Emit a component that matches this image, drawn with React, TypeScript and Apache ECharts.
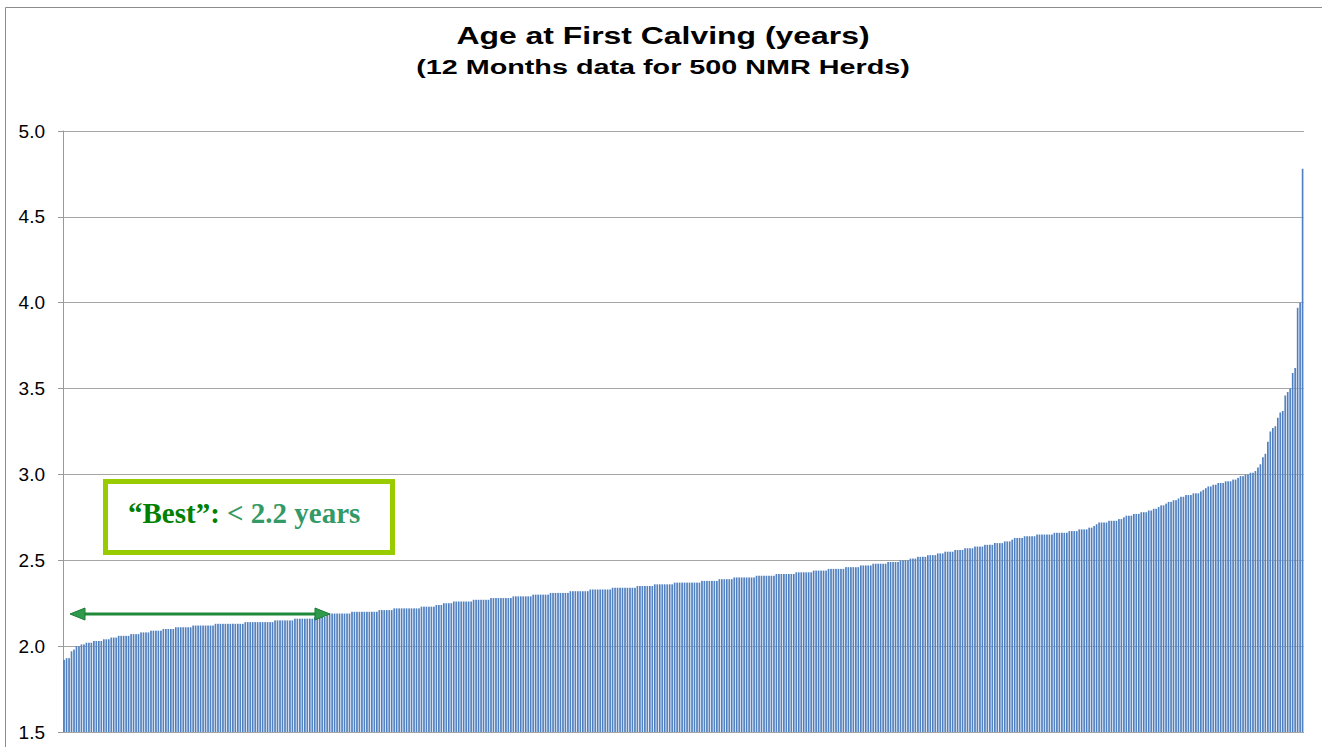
import React, { useEffect, useRef } from "react";
import * as echarts from "echarts";

const TITLE = "Age at First Calving (years)";
const SUBTITLE = "(12 Months data for 500 NMR Herds)";
const BEST_LABEL_A = "\u201CBest\u201D:";
const BEST_LABEL_B = " < 2.2 years";

const Y_MIN = 1.5;
const Y_MAX = 5.0;
const Y_INTERVAL = 0.5;

// Age at first calving (years) for 500 herds, sorted ascending
const herdAges: number[] = [
  1.92, 1.93, 1.93, 1.97, 1.98, 2.0, 2.0, 2.01, 2.01, 2.02, 2.02, 2.02, 2.03, 2.03, 2.03, 2.03, 2.04, 2.04, 2.04, 2.05,
  2.05, 2.05, 2.06, 2.06, 2.06, 2.06, 2.06, 2.07, 2.07, 2.07, 2.07, 2.08, 2.08, 2.08, 2.08, 2.09, 2.09, 2.09, 2.09, 2.09,
  2.1, 2.1, 2.1, 2.1, 2.1, 2.11, 2.11, 2.11, 2.11, 2.11, 2.11, 2.11, 2.12, 2.12, 2.12, 2.12, 2.12, 2.12, 2.12, 2.12,
  2.12, 2.13, 2.13, 2.13, 2.13, 2.13, 2.13, 2.13, 2.13, 2.13, 2.13, 2.13, 2.13, 2.14, 2.14, 2.14, 2.14, 2.14, 2.14, 2.14,
  2.14, 2.14, 2.14, 2.14, 2.14, 2.15, 2.15, 2.15, 2.15, 2.15, 2.15, 2.15, 2.15, 2.16, 2.16, 2.16, 2.16, 2.16, 2.16, 2.16,
  2.16, 2.17, 2.17, 2.17, 2.17, 2.17, 2.18, 2.19, 2.19, 2.19, 2.19, 2.19, 2.19, 2.19, 2.19, 2.19, 2.2, 2.2, 2.2, 2.2,
  2.2, 2.2, 2.2, 2.2, 2.2, 2.2, 2.2, 2.21, 2.21, 2.21, 2.21, 2.21, 2.21, 2.22, 2.22, 2.22, 2.22, 2.22, 2.22, 2.22,
  2.22, 2.22, 2.22, 2.22, 2.23, 2.23, 2.23, 2.23, 2.23, 2.23, 2.24, 2.24, 2.24, 2.25, 2.25, 2.25, 2.25, 2.26, 2.26, 2.26,
  2.26, 2.26, 2.26, 2.26, 2.26, 2.27, 2.27, 2.27, 2.27, 2.27, 2.27, 2.27, 2.28, 2.28, 2.28, 2.28, 2.28, 2.28, 2.28, 2.28,
  2.28, 2.29, 2.29, 2.29, 2.29, 2.29, 2.29, 2.29, 2.29, 2.3, 2.3, 2.3, 2.3, 2.3, 2.3, 2.3, 2.31, 2.31, 2.31, 2.31,
  2.31, 2.31, 2.31, 2.31, 2.32, 2.32, 2.32, 2.32, 2.32, 2.32, 2.32, 2.32, 2.33, 2.33, 2.33, 2.33, 2.33, 2.33, 2.33, 2.33,
  2.33, 2.34, 2.34, 2.34, 2.34, 2.34, 2.34, 2.34, 2.34, 2.34, 2.34, 2.35, 2.35, 2.35, 2.35, 2.35, 2.35, 2.35, 2.36, 2.36,
  2.36, 2.36, 2.36, 2.36, 2.36, 2.36, 2.37, 2.37, 2.37, 2.37, 2.37, 2.37, 2.37, 2.37, 2.37, 2.37, 2.37, 2.38, 2.38, 2.38,
  2.38, 2.38, 2.38, 2.38, 2.39, 2.39, 2.39, 2.39, 2.39, 2.39, 2.4, 2.4, 2.4, 2.4, 2.4, 2.4, 2.4, 2.4, 2.4, 2.41,
  2.41, 2.41, 2.41, 2.41, 2.41, 2.41, 2.41, 2.42, 2.42, 2.42, 2.42, 2.42, 2.42, 2.42, 2.42, 2.43, 2.43, 2.43, 2.43, 2.43,
  2.43, 2.43, 2.44, 2.44, 2.44, 2.44, 2.44, 2.44, 2.45, 2.45, 2.45, 2.45, 2.45, 2.45, 2.45, 2.46, 2.46, 2.46, 2.46, 2.46,
  2.46, 2.47, 2.47, 2.47, 2.47, 2.47, 2.48, 2.48, 2.48, 2.48, 2.48, 2.48, 2.49, 2.49, 2.49, 2.49, 2.49, 2.5, 2.5, 2.5,
  2.5, 2.51, 2.51, 2.51, 2.52, 2.52, 2.52, 2.52, 2.53, 2.53, 2.53, 2.53, 2.54, 2.54, 2.54, 2.55, 2.55, 2.55, 2.55, 2.56,
  2.56, 2.56, 2.56, 2.57, 2.57, 2.57, 2.57, 2.58, 2.58, 2.58, 2.58, 2.59, 2.59, 2.59, 2.59, 2.6, 2.6, 2.6, 2.6, 2.61,
  2.61, 2.61, 2.62, 2.63, 2.63, 2.63, 2.63, 2.64, 2.64, 2.64, 2.64, 2.64, 2.65, 2.65, 2.65, 2.65, 2.65, 2.65, 2.65, 2.66,
  2.66, 2.66, 2.66, 2.66, 2.66, 2.67, 2.67, 2.67, 2.67, 2.68, 2.68, 2.68, 2.68, 2.69, 2.69, 2.7, 2.71, 2.72, 2.72, 2.72,
  2.72, 2.73, 2.73, 2.73, 2.73, 2.74, 2.74, 2.75, 2.76, 2.76, 2.76, 2.77, 2.77, 2.77, 2.78, 2.78, 2.78, 2.79, 2.79, 2.8,
  2.8, 2.81, 2.82, 2.82, 2.83, 2.84, 2.84, 2.85, 2.85, 2.86, 2.87, 2.87, 2.88, 2.88, 2.88, 2.89, 2.89, 2.89, 2.9, 2.91,
  2.92, 2.93, 2.93, 2.94, 2.94, 2.95, 2.95, 2.95, 2.96, 2.96, 2.96, 2.97, 2.97, 2.98, 2.99, 2.99, 3.0, 3.0, 3.01, 3.01,
  3.02, 3.04, 3.06, 3.1, 3.12, 3.19, 3.25, 3.27, 3.28, 3.33, 3.36, 3.37, 3.46, 3.48, 3.5, 3.59, 3.62, 3.97, 4.0, 4.78,
];

const herdIds: string[] = herdAges.map((_, i) => String(i + 1));

const SANS = "'Liberation Sans', Arial, Helvetica, sans-serif";
const SERIF = "'Liberation Serif', 'Times New Roman', serif";

export default function App() {
  const ref = useRef<HTMLDivElement>(null);

  useEffect(() => {
    if (!ref.current) return;
    const chart = echarts.init(ref.current, undefined, { renderer: "svg" });
    const arrowY = 614;
    const arrowL = 70;
    const arrowR = 330;
    chart.setOption({
      animation: false,
      backgroundColor: "#ffffff",
      grid: { left: 63, right: 18, top: 131, bottom: 15, containLabel: false },
      xAxis: {
        type: "category",
        data: herdIds,
        axisLabel: { show: false },
        axisTick: { show: false },
        axisLine: { show: false },
        splitLine: { show: false },
      },
      yAxis: {
        type: "value",
        min: Y_MIN,
        max: Y_MAX,
        interval: Y_INTERVAL,
        axisLine: { show: true, lineStyle: { color: "#9a9a9a", width: 1 } },
        axisTick: { show: true, length: 5, lineStyle: { color: "#9a9a9a" } },
        axisLabel: {
          formatter: (v: number) => v.toFixed(1),
          fontFamily: SANS,
          fontSize: 19,
          color: "#000000",
          margin: 18,
        },
        splitLine: { show: true, lineStyle: { color: "#a6a6a6", width: 1 } },
      },
      series: [
        {
          type: "bar",
          data: herdAges,
          barCategoryGap: "22%",
          itemStyle: {
            color: new echarts.graphic.LinearGradient(0, 0, 1, 0, [
              { offset: 0, color: "#4677b8" },
              { offset: 0.6, color: "#5785c4" },
              { offset: 1, color: "#b9cde8" },
            ]),
          },
          emphasis: { disabled: true },
        },
      ],
      graphic: [
        {
          type: "rect",
          shape: { x: 5.5, y: 7.5, width: 1330, height: 760 },
          style: { fill: "none", stroke: "#8c8c8c", lineWidth: 1 },
          silent: true,
          z: 0,
        },
        {
          type: "text",
          x: 663,
          y: 36,
          scaleX: 1.33,
          style: {
            text: TITLE,
            font: `bold 24px ${SANS}`,
            fill: "#000000",
            textAlign: "center",
            textVerticalAlign: "middle",
          },
        },
        {
          type: "text",
          x: 663,
          y: 66,
          scaleX: 1.37,
          style: {
            text: SUBTITLE,
            font: `bold 21px ${SANS}`,
            fill: "#000000",
            textAlign: "center",
            textVerticalAlign: "middle",
          },
        },
        {
          type: "rect",
          shape: { x: 105.5, y: 481.5, width: 287, height: 71 },
          style: { fill: "#ffffff", stroke: "#99cc00", lineWidth: 5 },
          z: 10,
        },
        {
          type: "text",
          x: 128,
          y: 513,
          z: 11,
          style: {
            rich: {
              a: { font: `bold 29px ${SERIF}`, fill: "#008000" },
              b: { font: `bold 29px ${SERIF}`, fill: "#339966" },
            },
            text: `{a|${BEST_LABEL_A}}{b|${BEST_LABEL_B}}`,
            textAlign: "left",
            textVerticalAlign: "middle",
          },
        },
        {
          type: "line",
          shape: { x1: arrowL + 12, y1: arrowY, x2: arrowR - 12, y2: arrowY },
          style: { stroke: "#1f8a3a", lineWidth: 3 },
          z: 11,
        },
        {
          type: "polygon",
          shape: { points: [[arrowL, arrowY], [arrowL + 15, arrowY - 6], [arrowL + 15, arrowY + 6]] },
          style: { fill: "#2e9a4c", stroke: "#1f7a35", lineWidth: 1 },
          z: 11,
        },
        {
          type: "polygon",
          shape: { points: [[arrowR, arrowY], [arrowR - 15, arrowY - 6], [arrowR - 15, arrowY + 6]] },
          style: { fill: "#2e9a4c", stroke: "#1f7a35", lineWidth: 1 },
          z: 11,
        },
      ],
    });
    return () => chart.dispose();
  }, []);

  return (
    <div
      ref={ref}
      style={{ position: "absolute", left: 0, top: 0, width: 1322, height: 747 }}
    />
  );
}
